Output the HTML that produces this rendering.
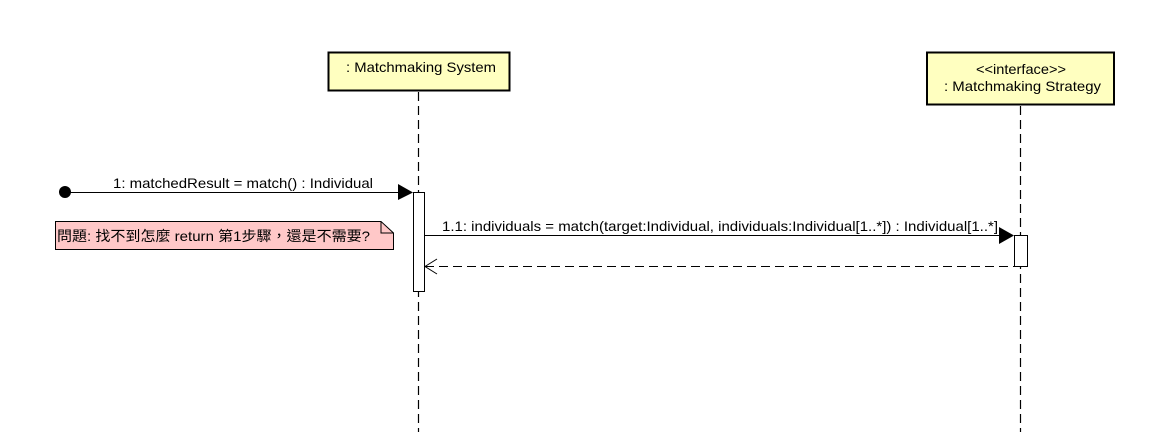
<!DOCTYPE html>
<html><head><meta charset="utf-8"><style>
body{margin:0;background:#fff;width:1151px;height:432px;overflow:hidden}
svg text{font-family:"Liberation Sans","Noto Sans CJK TC",sans-serif;font-size:14px;fill:#000}
</style></head><body>
<svg width="1151" height="432" viewBox="0 0 1151 432">
<g stroke="#000" stroke-width="1.2" stroke-dasharray="9,5" fill="none">
<line x1="418.5" y1="92" x2="418.5" y2="432"/>
<line x1="1020.5" y1="106" x2="1020.5" y2="432"/>
</g>
<rect x="328.5" y="52.5" width="181" height="38" fill="#ffffc0" stroke="#000" stroke-width="2"/>
<text x="346" y="72" textLength="150" lengthAdjust="spacingAndGlyphs">: Matchmaking System</text>
<rect x="927" y="52.5" width="187" height="52" fill="#ffffc0" stroke="#000" stroke-width="2"/>
<text x="976" y="74" textLength="90" lengthAdjust="spacingAndGlyphs">&lt;&lt;interface&gt;&gt;</text>
<text x="944" y="91" textLength="157" lengthAdjust="spacingAndGlyphs">: Matchmaking Strategy</text>
<rect x="413.5" y="192.5" width="11" height="99" fill="#fff" stroke="#000"/>
<rect x="1014.5" y="235.5" width="13" height="31" fill="#fff" stroke="#000"/>
<circle cx="65" cy="192" r="6" fill="#000"/>
<line x1="65" y1="192.5" x2="400" y2="192.5" stroke="#000"/>
<polygon points="398,184 413,192.5 398,200" fill="#000"/>
<text x="113" y="188" textLength="260" lengthAdjust="spacingAndGlyphs">1: matchedResult = match() : Individual</text>
<line x1="424" y1="235.5" x2="1000" y2="235.5" stroke="#000"/>
<polygon points="999,227 1014,235.5 999,244" fill="#000"/>
<text x="442" y="231" textLength="556" lengthAdjust="spacingAndGlyphs">1.1: individuals = match(target:Individual, individuals:Individual[1..*]) : Individual[1..*]</text>
<line x1="425" y1="266.5" x2="1014" y2="266.5" stroke="#000" stroke-dasharray="9,5"/>
<polyline points="437,259 425,266.5 437,274" fill="none" stroke="#000"/>
<polygon points="55.5,221.5 381,221.5 393.5,233 393.5,249.5 55.5,249.5" fill="#ffc8c8" stroke="#000"/>
<polyline points="381,221.5 381,233 393.5,233" fill="none" stroke="#000"/>
<text x="57" y="241" textLength="313" lengthAdjust="spacingAndGlyphs">問題: 找不到怎麼 return 第1步驟，還是不需要?</text>
</svg>
</body></html>
